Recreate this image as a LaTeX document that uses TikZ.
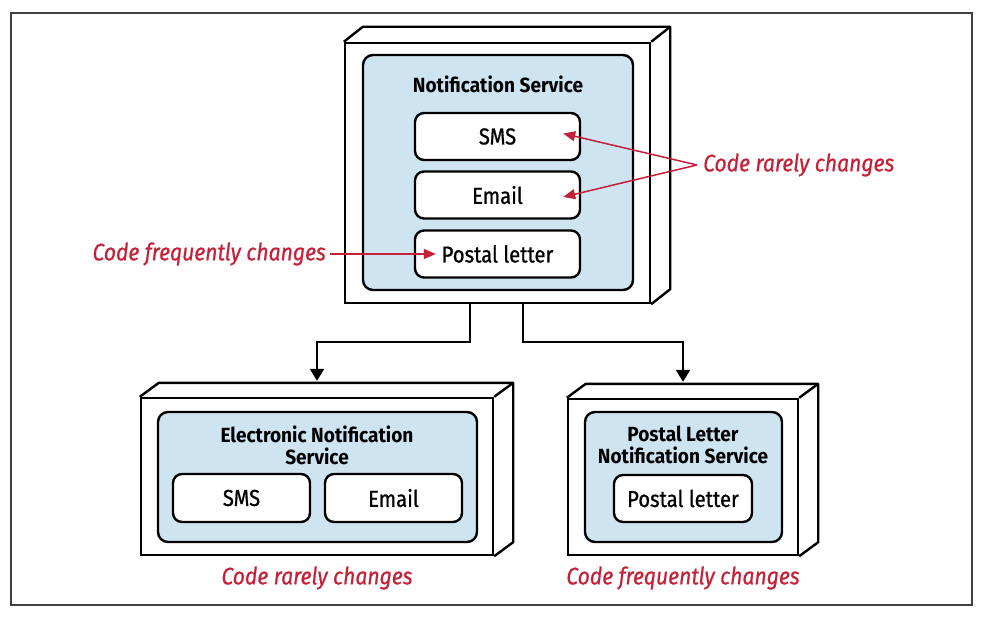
\documentclass[tikz,border=0pt]{standalone}
\usepackage{fontspec}
\setmainfont{Fira Sans}
\newfontfamily\labelfont[FakeStretch=0.88, FakeBold=0.8]{Fira Sans}
\newfontfamily\titlefont[FakeStretch=0.93]{Fira Sans}
\newfontfamily\remarkfont[FakeStretch=0.88, FakeBold=0.6]{Fira Sans}
\usepackage{xcolor}
\usepackage{tikz}
\usetikzlibrary{arrows.meta}
\definecolor{codered}{RGB}{196,32,56}
\definecolor{svcblue}{RGB}{206,228,241}
\tikzstyle{front} = [draw=black, fill=white, line width=2.4pt,
rectangle, inner sep=0pt]
\tikzstyle{depth} = [draw=black, line width=2.4pt, line join=round]
\tikzstyle{service} = [draw=black, fill=svcblue, line width=2.4pt,
rectangle, rounded corners=10pt, inner sep=0pt]
\tikzstyle{module} = [draw=black, fill=white, line width=2.4pt,
rectangle, rounded corners=9pt, inner sep=0pt, font=\labelfont\fontsize{23}{26}\selectfont]
\tikzstyle{svctitle} = [font=\titlefont\bfseries\fontsize{20.5}{22}\selectfont, align=center, inner sep=0pt]
\tikzstyle{remark} = [text=codered, font=\remarkfont\itshape\fontsize{24}{26}\selectfont, inner sep=0pt]
\tikzstyle{remarkarrow} = [draw=codered, line width=1.5pt, -{Triangle[length=12pt,width=10pt]}]
\tikzstyle{flow} = [draw=black, line width=2.4pt, -{Triangle[length=12pt,width=14pt]}]

\begin{document}
\begin{tikzpicture}[x=1pt, y=-1pt]
        \useasboundingbox (0,0) rectangle (982,617);
        \draw[line width=1.2pt, black!75] (11,13) rectangle (972,605);

        % top service
        \node [front, minimum width=305pt, minimum height=260pt] (notif) at (497.5,173) {};
        \draw [depth] (notif.north west) -- ++(19,-15) -| ([shift={(19pt,15pt)}]notif.south east) -- (notif.south east);
        \draw [depth] (notif.north east) -- ++(19,-15);
        \node [service, minimum width=270pt, minimum height=235pt] (notifin) at (498,172.5) {};
        \node [svctitle] (notiftitle) at (498,84) {Notification Service};
        \node [module, minimum width=165pt, minimum height=47pt] (sms) at (497.5,136.5) {SMS};
        \node [module, minimum width=165pt, minimum height=47pt] (email) at (497.5,195) {Email};
        \node [module, minimum width=165pt, minimum height=47pt] (postal) at (497.5,254) {Postal letter};

        % remarks on the top service
        \node [remark, anchor=west] (rare) at (703,165) {Code rarely changes};
        \node [remark, anchor=east] (freq) at (326,254) {Code frequently changes};
        \draw [remarkarrow] ([xshift=-6pt]rare.west) -- ([xshift=-18pt,yshift=3pt]sms.east);
        \draw [remarkarrow] ([xshift=-6pt]rare.west) -- ([xshift=-18pt,yshift=-2pt]email.east);
        \draw [remarkarrow] ([xshift=4pt]freq.east) -- ([xshift=22pt]postal.west);

        % electronic service
        \node [front, minimum width=352pt, minimum height=157pt] (elec) at (317,476.5) {};
        \draw [depth] (elec.north west) -- ++(19,-14) -| ([shift={(19pt,14pt)}]elec.south east) -- (elec.south east);
        \draw [depth] (elec.north east) -- ++(19,-14);
        \node [service, minimum width=319pt, minimum height=130pt] (elecin) at (317.5,477) {};
        \node [svctitle] (electitle) at (317,445) {Electronic Notification\\Service};
        \node [module, minimum width=137pt, minimum height=48pt] (esms) at (241.5,498) {SMS};
        \node [module, minimum width=137pt, minimum height=48pt] (eemail) at (393.5,498) {Email};
        \node [remark] (elecnote) at (317,578) {Code rarely changes};

        % postal letter service
        \node [front, minimum width=230pt, minimum height=156pt] (post) at (683,477) {};
        \draw [depth] (post.north west) -- ++(19,-14) -| ([shift={(19pt,14pt)}]post.south east) -- (post.south east);
        \draw [depth] (post.north east) -- ++(19,-14);
        \node [service, minimum width=197pt, minimum height=130pt] (postin) at (683.5,477) {};
        \node [svctitle] (posttitle) at (683,445) {Postal Letter\\Notification Service};
        \node [module, minimum width=138pt, minimum height=47pt] (ppostal) at (683,498.5) {Postal letter};
        \node [remark] (postnote) at (683,578) {Code frequently changes};

        % split
        \draw [flow] ([xshift=-27.5pt]notif.south) -- ++(0,38) -| ([yshift=16pt]elec.north);
        \draw [flow] ([xshift=25.5pt]notif.south) -- ++(0,38) -| ([yshift=16pt]post.north);
    \end{tikzpicture}
\end{document}
